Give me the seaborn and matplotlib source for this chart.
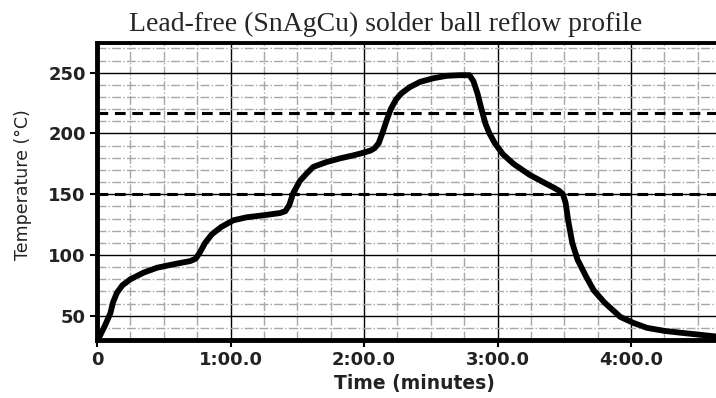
import numpy as np
import pandas as pd
import matplotlib
matplotlib.use("Agg")
import matplotlib.pyplot as plt
import seaborn as sns
from matplotlib.ticker import MultipleLocator

# Reflow profile (time in minutes, temperature in degC)
time_min = [0.00, 0.02, 0.06, 0.10, 0.12, 0.15, 0.19, 0.25, 0.35, 0.45, 0.58, 0.70,
            0.74, 0.77, 0.81, 0.86, 0.93, 1.02, 1.12, 1.27, 1.37, 1.41, 1.44, 1.47,
            1.52, 1.57, 1.62, 1.72, 1.82, 1.92, 1.99, 2.05, 2.08, 2.11, 2.14, 2.17,
            2.20, 2.24, 2.28, 2.34, 2.42, 2.52, 2.62, 2.72, 2.79, 2.82, 2.85, 2.88,
            2.91, 2.94, 2.98, 3.04, 3.12, 3.24, 3.35, 3.42, 3.46, 3.49, 3.51, 3.53,
            3.56, 3.60, 3.66, 3.72, 3.80, 3.92, 4.02, 4.12, 4.25, 4.37, 4.50, 4.67]
temp_c = [30, 33, 42, 52, 61, 69, 75, 80, 85.5, 89.5, 92.5, 95,
          97, 102, 110, 117, 123, 128.5, 131, 133, 134.5, 136, 141, 151,
          161, 167, 172.5, 176.5, 179.5, 182, 184, 186, 188, 192, 201, 211,
          220, 228, 233, 238, 242.5, 245.5, 247.5, 248, 248, 243, 233, 220,
          208, 200, 192, 183, 175, 166, 159.5, 155.5, 153, 150, 143, 128,
          110, 96, 83, 71, 61, 49, 44, 40, 37.5, 36, 34.5, 32.5]

x_major = [0, 1, 2, 3, 4]
x_labels = ["0", "1:00.0", "2:00.0", "3:00.0", "4:00.0"]
y_major = [50, 100, 150, 200, 250]
limit_lines = [150, 217]

df = pd.DataFrame({"time": time_min, "temp": temp_c})

sns.set_style("white")
plt.rcParams["font.family"] = ["DejaVu Sans"]

fig = plt.figure(figsize=(7.16, 3.98), dpi=100)
ax = fig.add_axes([97 / 716, 1 - 340 / 398, (722 - 97) / 716, (340 - 43) / 398])

ax.set_xlim(0, (722 - 97) / 133.5)
ax.set_ylim(30, 274.5)

# grid: gray dash-dot minor, thin black major
ax.xaxis.set_minor_locator(MultipleLocator(0.25))
ax.yaxis.set_minor_locator(MultipleLocator(10))
ax.grid(which="minor", color="#a8a8a8", linestyle="-.", linewidth=1.0)
ax.grid(which="major", color="black", linestyle="-", linewidth=1.0)
ax.set_axisbelow(True)

for y in limit_lines:
    ax.axhline(y, color="black", linestyle=(0, (3.5, 2.2)), linewidth=2.2, zorder=3)

sns.lineplot(data=df, x="time", y="temp", ax=ax, color="black", linewidth=4.2,
             zorder=4, solid_joinstyle="round", solid_capstyle="round")

ax.set_xticks(x_major)
ax.set_xticklabels(x_labels)
ax.set_yticks(y_major)
ax.tick_params(which="major", direction="out", length=5, width=1.5, color="black",
               labelsize=13, pad=3, bottom=True, left=True)
ax.tick_params(which="minor", length=0)
for lab in ax.get_xticklabels() + ax.get_yticklabels():
    lab.set_fontweight("bold")
    lab.set_color("#222222")

for side in ["left", "bottom"]:
    ax.spines[side].set_linewidth(3.5)
    ax.spines[side].set_color("black")
ax.spines["top"].set_linewidth(2.8)
ax.spines["top"].set_color("black")
ax.spines["right"].set_visible(False)

ax.set_xlabel("")
ax.set_ylabel("")
fig.text(414 / 716, 1 - 383 / 398, "Time (minutes)", ha="center", va="center",
         fontsize=13.5, fontweight="bold", color="#222222")
fig.text(23 / 716, 1 - 185 / 398, "Temperature (\u00b0C)", ha="center", va="center",
         rotation=90, fontsize=12.5, color="#222222")
fig.text(386 / 716, 1 - 24 / 398, "Lead-free (SnAgCu) solder ball reflow profile",
         ha="center", va="center", fontsize=20, family="Liberation Serif")

fig.savefig("out.png", dpi=100)
